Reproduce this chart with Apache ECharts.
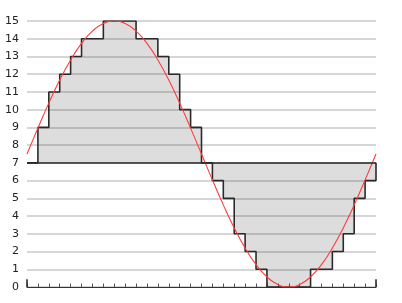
<!DOCTYPE html>
<html>
<head>
<meta charset="utf-8">
<style>html,body{margin:0;padding:0;background:#fff}#c{width:402px;height:303px}</style>
<script src="https://cdn.jsdelivr.net/npm/echarts@6/dist/echarts.min.js"></script>
</head>
<body>
<div id="c"></div>
<script>
// Sample index (x) for the quantized signal, one per tick
const sampleIdx = [0,1,2,3,4,5,6,7,8,9,10,11,12,13,14,15,16,17,18,19,20,21,22,23,24,25,26,27,28,29,30,31];
// Quantized (4-bit) levels held over each interval
const quantized = [7,9,11,12,13,14,14,15,15,15,14,14,13,12,10,9,7,6,5,3,2,1,0,0,0,0,1,1,2,3,5,6];
// Analog signal read at each tick position (x = 0..32)
const analogX = [0,1,2,3,4,5,6,7,8,9,10,11,12,13,14,15,16,17,18,19,20,21,22,23,24,25,26,27,28,29,30,31,32];
const analog = [7.5,8.96,10.37,11.67,12.8,13.74,14.43,14.86,15,14.86,14.43,13.74,12.8,11.67,10.37,8.96,7.5,6.04,4.63,3.33,2.2,1.26,0.57,0.14,0,0.14,0.57,1.26,2.2,3.33,4.63,6.04,7.5];
const yTicks = [0,1,2,3,4,5,6,7,8,9,10,11,12,13,14,15];
const baseline = 7;

const xMax = sampleIdx.length;
const stepData = sampleIdx.map((x,i)=>[x, quantized[i]]);
stepData.push([xMax, quantized[quantized.length-1]]);
stepData.push([xMax, baseline]);
const analogData = analogX.map((x,i)=>[x, analog[i]]);

const chart = echarts.init(document.getElementById('c'), null, {renderer:'canvas'});
chart.setOption({
  animation:false,
  grid:{left:27, right:26, top:21, bottom:16, containLabel:false},
  xAxis:{
    type:'value', min:0, max:xMax, interval:1,
    axisLine:{show:true, onZero:false, lineStyle:{color:'#333', width:1}},
    axisTick:{show:true, inside:true, length:3.5, lineStyle:{color:'#555', width:1}},
    axisLabel:{show:false},
    splitLine:{show:false}
  },
  yAxis:{
    type:'value', min:yTicks[0], max:yTicks[yTicks.length-1], interval:1,
    axisLine:{show:false}, axisTick:{show:false},
    axisLabel:{color:'#222', fontFamily:'DejaVu Sans', fontSize:11, margin:8},
    splitLine:{show:true, lineStyle:{color:'#c8c8c8', width:1.5}}
  },
  series:[
    {
      type:'line', step:'end', data:stepData, symbol:'none', z:2,
      lineStyle:{color:'#2a2a2a', width:1.6},
      areaStyle:{color:'rgba(0,0,0,0.135)', opacity:1, origin:baseline},
      markLine:{
        silent:true, symbol:'none', label:{show:false},
        lineStyle:{color:'#2a2a2a', width:1.6, type:'solid'},
        data:[
          {yAxis:baseline},
          [{coord:[0,0]},{coord:[0,0.43]}],
          [{coord:[xMax,0]},{coord:[xMax,0.43]}]
        ]
      }
    },
    {
      type:'line', data:analogData, smooth:true, symbol:'none', z:4,
      lineStyle:{color:'#ff3b3b', width:1.1}
    }
  ]
});
</script>
</body>
</html>
